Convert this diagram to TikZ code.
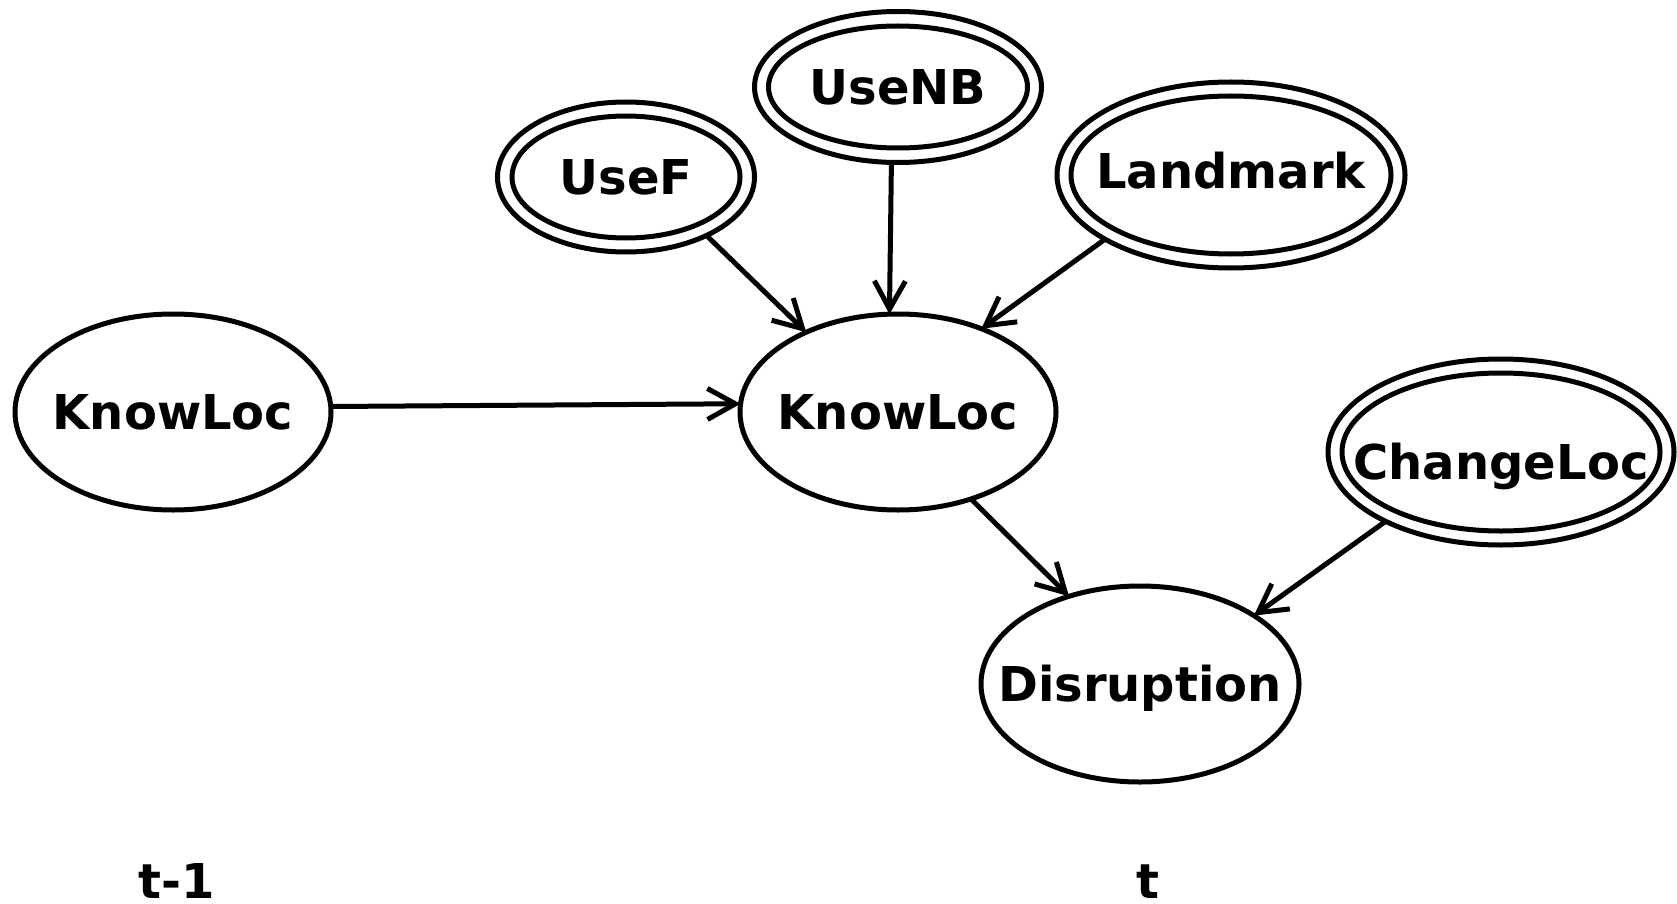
\documentclass[tikz,border=0pt]{standalone}
\usepackage{fontspec}
\setmainfont{DejaVu Sans}
\usetikzlibrary{arrows.meta,shapes.geometric}
\begin{document}
\begin{tikzpicture}[x=1pt,y=-1pt,
  ell/.style={draw, ellipse, line width=5pt, inner sep=0pt, outer sep=0pt,
    text height=35pt, text depth=0pt,
    font=\fontsize{48}{58}\selectfont\bfseries},
  inell/.style={draw, ellipse, line width=5pt, inner sep=0pt, outer sep=0pt},
  lbl/.style={anchor=base, inner sep=0pt, font=\fontsize{48}{58}\selectfont\bfseries},
  edge/.style={line width=5pt, -{Straight Barb[length=28pt,width=31pt]}}
]
\useasboundingbox (0,0) rectangle (1677,904);

% plain nodes
\node[ell, minimum width=316pt, minimum height=196pt] (kl1) at (173,412) {\makebox[0pt]{KnowLoc}};
\node[ell, minimum width=316pt, minimum height=196pt] (kl2) at (898,412) {\makebox[0pt]{KnowLoc}};
\node[ell, minimum width=318pt, minimum height=196pt] (dis) at (1140,684) {\makebox[0pt]{Disruption}};

% double nodes
\node[ell, minimum width=257pt, minimum height=150pt] (usef) at (626,177) {\makebox[0pt]{UseF}};
\node[inell, minimum width=228pt, minimum height=122pt] (usefin) at (usef.center) {};

\node[ell, minimum width=287pt, minimum height=151pt] (usenb) at (898,87) {\makebox[0pt]{UseNB}};
\node[inell, minimum width=259pt, minimum height=122pt] (usenbin) at (usenb.center) {};

\node[ell, minimum width=348pt, minimum height=186pt] (land) at (1231,175) {\makebox[0pt]{\raisebox{4pt}{Landmark}}};
\node[inell, minimum width=320pt, minimum height=158pt] (landin) at (land.center) {};

\node[ell, minimum width=346pt, minimum height=186pt] (chg) at (1501,452) {\makebox[0pt]{\raisebox{-10pt}{ChangeLoc}}};
\node[inell, minimum width=318pt, minimum height=158pt] (chgin) at (chg.center) {};

% time labels
\node[lbl] (tm1) at (177,898) {t-1};
\node[lbl] (t) at (1148,898) {t};

% edges
\draw[edge] (kl1.2.9) -- (kl2.177.1);
\draw[edge] (usef.-36) -- (kl2.139);
\draw[edge] (usenb.-95) -- (kl2.95);
\draw[edge] (land.-153.5) -- (kl2.45.6);
\draw[edge] (kl2.-50) -- (dis.129.3);
\draw[edge] (chg.-149.5) -- (dis.31.2);
\end{tikzpicture}
\end{document}
